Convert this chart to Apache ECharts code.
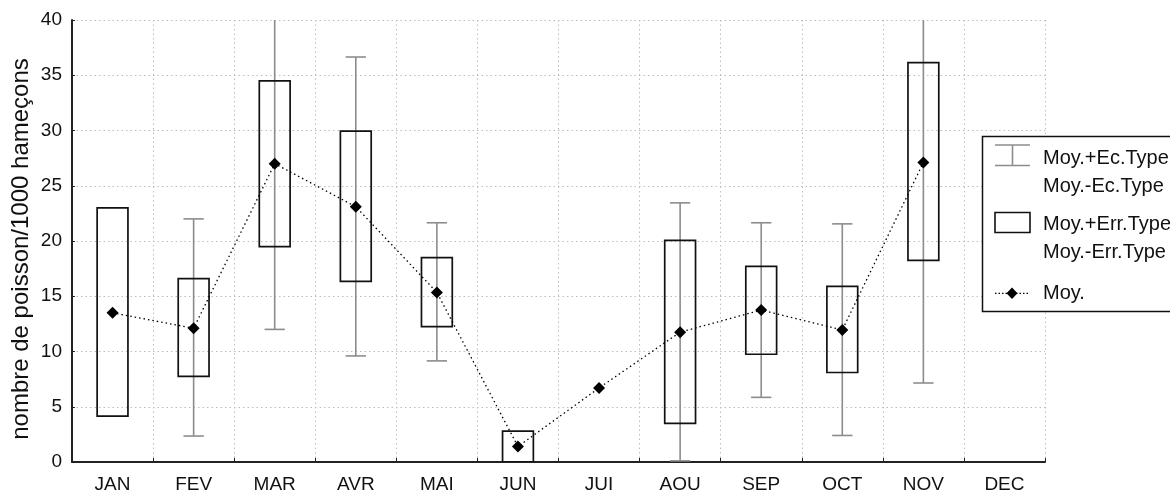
<!DOCTYPE html>
<html>
<head>
<meta charset="utf-8">
<script src="https://cdn.jsdelivr.net/npm/echarts@6/dist/echarts.min.js"></script>
<style>
html,body{margin:0;padding:0;background:#fff;}
#chart{width:1170px;height:495px;}
</style>
</head>
<body>
<div id="chart"></div>
<script>
// ---- data ----
const months = ['JAN','FEV','MAR','AVR','MAI','JUN','JUI','AOU','SEP','OCT','NOV','DEC'];
const meanVals = [13.5, 12.1, 27.0, 23.1, 15.35, 1.4, 6.7, 11.75, 13.75, 11.95, 27.1, null];
const errHigh  = [23.0, 16.6, 34.5, 29.95, 18.5, 2.8, null, 20.05, 17.7, 15.9, 36.15, null];
const errLow   = [4.15, 7.75, 19.5, 16.35, 12.25, 0.0, null, 3.5, 9.75, 8.1, 18.25, null];
const sdHigh   = [null, 22.0, 42.0, 36.65, 21.65, null, null, 23.45, 21.65, 21.55, 47.1, null];
const sdLow    = [null, 2.35, 12.0, 9.6, 9.15, null, null, 0.1, 5.85, 2.4, 7.15, null];
const yTicks = [0, 5, 10, 15, 20, 25, 30, 35, 40];
const yTitle = 'nombre de poisson/1000 hameçons';
const legendLabels = ['Moy.+Ec.Type', 'Moy.-Ec.Type', 'Moy.+Err.Type', 'Moy.-Err.Type', 'Moy.'];

const FONT = '"Liberation Sans", Arial, Helvetica, sans-serif';

function rangeData(lo, hi) {
  const out = [];
  for (let i = 0; i < months.length; i++) {
    if (lo[i] != null && hi[i] != null) out.push([i, lo[i], hi[i]]);
  }
  return out;
}

const chart = echarts.init(document.getElementById('chart'), null, {renderer: 'canvas'});

const option = {
  animation: false,
  backgroundColor: '#fff',
  grid: {left: 72, right: 125, top: 20, bottom: 33, containLabel: false},
  xAxis: {
    type: 'category',
    data: months,
    boundaryGap: true,
    axisLine: {show: true, onZero: false, lineStyle: {color: '#222', width: 2}},
    axisTick: {show: true, inside: true, length: 4, lineStyle: {color: '#222', width: 1}},
    axisLabel: {color: '#111', fontFamily: FONT, fontSize: 19, margin: 13},
    splitLine: {show: true, lineStyle: {color: '#bdbdbd', width: 1, type: [1.5, 3]}}
  },
  yAxis: {
    type: 'value',
    min: 0, max: 40, interval: 5,
    axisLine: {show: true, lineStyle: {color: '#222', width: 2}},
    axisTick: {show: true, inside: true, length: 3, lineStyle: {color: '#222', width: 1}},
    axisLabel: {color: '#111', fontFamily: FONT, fontSize: 19, margin: 10,
      formatter: v => (yTicks.indexOf(v) >= 0 ? String(v) : '')},
    splitLine: {show: true, lineStyle: {color: '#bdbdbd', width: 1, type: [1.5, 3]}}
  },
  series: [
    {
      name: 'sd',
      type: 'custom',
      clip: true,
      z: 2,
      data: rangeData(sdLow, sdHigh),
      renderItem: function (params, api) {
        const x = api.value(0);
        const top = api.coord([x, api.value(2)]);
        const bot = api.coord([x, api.value(1)]);
        const half = api.size([1, 0])[0] * 0.125;
        const st = {stroke: '#8c8c8c', lineWidth: 1.6, fill: null};
        return {
          type: 'group',
          children: [
            {type: 'line', shape: {x1: top[0], y1: top[1], x2: bot[0], y2: bot[1]}, style: st},
            {type: 'line', shape: {x1: top[0] - half, y1: top[1], x2: top[0] + half, y2: top[1]}, style: st},
            {type: 'line', shape: {x1: bot[0] - half, y1: bot[1], x2: bot[0] + half, y2: bot[1]}, style: st}
          ]
        };
      }
    },
    {
      name: 'err',
      type: 'custom',
      clip: true,
      z: 3,
      data: rangeData(errLow, errHigh),
      renderItem: function (params, api) {
        const x = api.value(0);
        const top = api.coord([x, api.value(2)]);
        const bot = api.coord([x, api.value(1)]);
        const w = api.size([1, 0])[0] * 0.38;
        return {
          type: 'rect',
          shape: {x: top[0] - w / 2, y: top[1], width: w, height: bot[1] - top[1]},
          style: {stroke: '#111', lineWidth: 1.7, fill: null}
        };
      }
    },
    {
      name: 'Moy.',
      type: 'line',
      z: 4,
      data: meanVals,
      connectNulls: false,
      symbol: 'diamond',
      symbolSize: 12,
      itemStyle: {color: '#000'},
      lineStyle: {color: '#000', width: 1.3, type: [1.5, 3]}
    }
  ],
  graphic: [
    {
      type: 'text', x: 21, y: 249, rotation: Math.PI / 2,
      style: {text: yTitle, fill: '#111', font: '24px ' + FONT, align: 'center', verticalAlign: 'middle'}
    },
    {type: 'rect', shape: {x: 982.5, y: 136.5, width: 300, height: 175}, style: {stroke: '#111', lineWidth: 1.5, fill: '#fff'}, z: 10},
    {type: 'line', shape: {x1: 995, y1: 145, x2: 1030, y2: 145}, style: {stroke: '#8c8c8c', lineWidth: 1.6}, z: 11},
    {type: 'line', shape: {x1: 995, y1: 165.5, x2: 1030, y2: 165.5}, style: {stroke: '#8c8c8c', lineWidth: 1.6}, z: 11},
    {type: 'line', shape: {x1: 1012.5, y1: 145, x2: 1012.5, y2: 165.5}, style: {stroke: '#8c8c8c', lineWidth: 1.6}, z: 11},
    {type: 'rect', shape: {x: 995, y: 212.5, width: 35, height: 20}, style: {stroke: '#111', lineWidth: 1.6, fill: null}, z: 11},
    {type: 'line', shape: {x1: 995, y1: 293.3, x2: 1029, y2: 293.3}, style: {stroke: '#000', lineWidth: 1.3, lineDash: [1.5, 2]}, z: 11},
    {type: 'polygon', shape: {points: [[1012, 287.5], [1017.5, 293.3], [1012, 299], [1006.5, 293.3]]}, style: {fill: '#000'}, z: 12},
    {type: 'text', x: 1043, y: 158.5, style: {text: legendLabels[0], fill: '#111', font: '20px ' + FONT, verticalAlign: 'middle'}, z: 11},
    {type: 'text', x: 1043, y: 186.5, style: {text: legendLabels[1], fill: '#111', font: '20px ' + FONT, verticalAlign: 'middle'}, z: 11},
    {type: 'text', x: 1043, y: 224.5, style: {text: legendLabels[2], fill: '#111', font: '20px ' + FONT, verticalAlign: 'middle'}, z: 11},
    {type: 'text', x: 1043, y: 252, style: {text: legendLabels[3], fill: '#111', font: '20px ' + FONT, verticalAlign: 'middle'}, z: 11},
    {type: 'text', x: 1043, y: 293.5, style: {text: legendLabels[4], fill: '#111', font: '20px ' + FONT, verticalAlign: 'middle'}, z: 11}
  ]
};
chart.setOption(option);
</script>
</body>
</html>
